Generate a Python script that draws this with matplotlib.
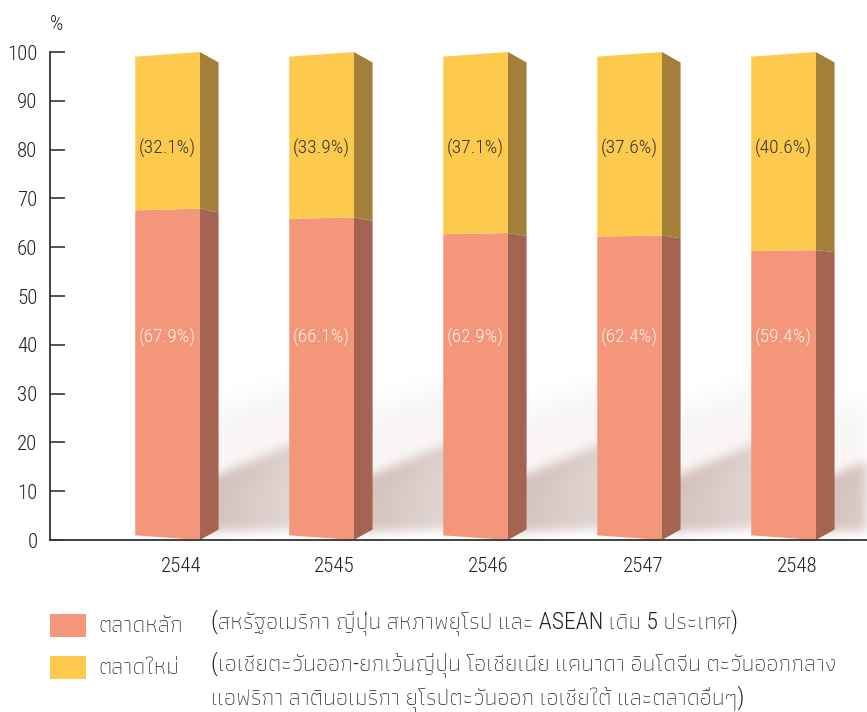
import numpy as np
import matplotlib
matplotlib.use('agg')
import matplotlib.pyplot as plt
from matplotlib.patches import Polygon, Rectangle
from matplotlib.path import Path

# data
years = ['2544', '2545', '2546', '2547', '2548']
main_market = [67.9, 66.1, 62.9, 62.4, 59.4]
new_market = [32.1, 33.9, 37.1, 37.6, 40.6]
legend_names = ['ตลาดหลัก', 'ตลาดใหม่']
legend_notes = ['(สหรัฐอเมริกา ญี่ปุ่น สหภาพยุโรป และ ASEAN เดิม 5 ประเทศ)',
                '(เอเชียตะวันออก-ยกเว้นญี่ปุ่น โอเชียเนีย แคนาดา อินโดจีน ตะวันออกกลาง\nแอฟริกา ลาตินอเมริกา ยุโรปตะวันออก เอเชียใต้ และตลาดอื่นๆ)']

NUM_FONT = ['Roboto Condensed', 'DejaVu Sans']
THAI_FONT = ['Roboto Condensed', 'Athiti', 'DejaVu Sans']

main_front, main_side = '#F3967A', '#A56352'
new_front, new_side = '#FDCA4E', '#A3803A'

W, H = 867, 712
fig = plt.figure(figsize=(W / 100, H / 100), dpi=100)
ax = fig.add_axes([50 / W, (H - 540) / H, 817 / W, 488 / H])
xmin, xmax = -117.6 / 154, (867 - 167.6) / 154
ax.set_xlim(xmin, xmax)
ax.set_ylim(0, 100)

hw = 0.21      # half width of front face
depth = 0.121  # side face width
s_left, s_back = 0.981, 0.957


def ypos(v, s):
    # slight perspective: squash around the middle of the bar
    return 50 + (v - 50) * s


# soft shadows behind the bars
px_x = 154.0
gx = np.linspace(xmin, xmax, 817)
gy = np.linspace(0, 100, 488)
GX, GY = np.meshgrid(gx, gy)
pts = np.column_stack([GX.ravel(), GY.ravel()])
mask = np.zeros(GX.shape)
haze = np.zeros(GX.shape)
for i in range(len(years)):
    xb = i + hw + depth
    poly = [(xb - 15 / px_x, 1.5), (xb - 15 / px_x, 12.0),
            (xb + 120 / px_x, 23.5), (xb + 120 / px_x, 2.5)]
    inside = Path(poly).contains_points(pts).reshape(GX.shape)
    fade = np.clip(1 - (GX - xb) / (260 / px_x), 0.5, 1)
    mask = np.maximum(mask, inside * fade)
    poly2 = [(xb - 10 / px_x, 10), (xb - 10 / px_x, 26),
             (xb + 100 / px_x, 33), (xb + 100 / px_x, 20)]
    haze = np.maximum(haze, Path(poly2).contains_points(pts).reshape(GX.shape))


def blur(a, sigma):
    r = int(sigma * 3)
    k = np.exp(-0.5 * (np.arange(-r, r + 1) / sigma) ** 2)
    k /= k.sum()
    a = np.apply_along_axis(lambda m: np.convolve(m, k, mode='same'), 0, a)
    a = np.apply_along_axis(lambda m: np.convolve(m, k, mode='same'), 1, a)
    return a


alpha = blur(mask, 5) * 0.4 + blur(haze, 12) * 0.07
img = np.zeros(GX.shape + (4,))
img[..., 0] = 150 / 255
img[..., 1] = 108 / 255
img[..., 2] = 96 / 255
img[..., 3] = np.clip(alpha, 0, 1)
ax.imshow(img, extent=(xmin, xmax, 0, 100), origin='lower', aspect='auto',
          interpolation='bilinear', zorder=1)

# 3d-looking stacked bars
for i in range(len(years)):
    xl, xr, xb = i - hw, i + hw, i + hw + depth
    segs = [(0, main_market[i], main_front, main_side),
            (main_market[i], 100, new_front, new_side)]
    for lo, hi, cf, cs in segs:
        front = [(xl, ypos(lo, s_left)), (xr, lo), (xr, hi), (xl, ypos(hi, s_left))]
        side = [(xr, lo), (xb, ypos(lo, s_back)), (xb, ypos(hi, s_back)), (xr, hi)]
        ax.add_patch(Polygon(front, closed=True, fc=cf, ec='none', zorder=3))
        ax.add_patch(Polygon(side, closed=True, fc=cs, ec='none', zorder=3))
    ax.text(i, 80.3, '(%.1f%%)' % new_market[i], ha='center', va='center',
            fontsize=14, color='#333333', family=NUM_FONT, weight='light', zorder=4)
    ax.text(i, 41.6, '(%.1f%%)' % main_market[i], ha='center', va='center',
            fontsize=14, color='#FFF2EC', family=NUM_FONT, weight='light', zorder=4)

ax.spines['top'].set_visible(False)
ax.spines['right'].set_visible(False)
for sp in ['left', 'bottom']:
    ax.spines[sp].set_color('#333333')
    ax.spines[sp].set_linewidth(1.3)
    ax.spines[sp].set_zorder(5)

ax.set_yticks(range(0, 101, 10))
ax.tick_params(axis='y', direction='in', length=11, width=1.3, color='#444444',
               pad=9, labelsize=15, labelcolor='#222222')
ax.set_xticks([i + 0.085 for i in range(len(years))])
ax.set_xticklabels(years)
ax.tick_params(axis='x', length=0, pad=12, labelsize=15, labelcolor='#222222')
for lab in ax.get_yticklabels() + ax.get_xticklabels():
    lab.set_family(NUM_FONT)
    lab.set_weight('light')

fig.text(57 / W, 1 - 25 / H, '%', ha='center', va='center', fontsize=15,
         color='#222222', family=NUM_FONT, weight='light')

# legend
for k, (name, note, col) in enumerate(zip(legend_names, legend_notes, [main_front, new_front])):
    yc = 625 + k * 42
    fig.add_artist(Rectangle((50 / W, 1 - (yc + 12) / H), 36 / W, 23 / H,
                             transform=fig.transFigure, fc=col, ec='none'))
    fig.text(98 / W, 1 - yc / H, name, ha='left', va='center', fontsize=17,
             color='#222222', family=THAI_FONT, weight='light')
    fig.text(211 / W, 1 - (yc - 15) / H, note, ha='left', va='top', fontsize=17,
             color='#222222', family=THAI_FONT, weight='light', linespacing=1.42)

fig.savefig('out.png', dpi=100)
